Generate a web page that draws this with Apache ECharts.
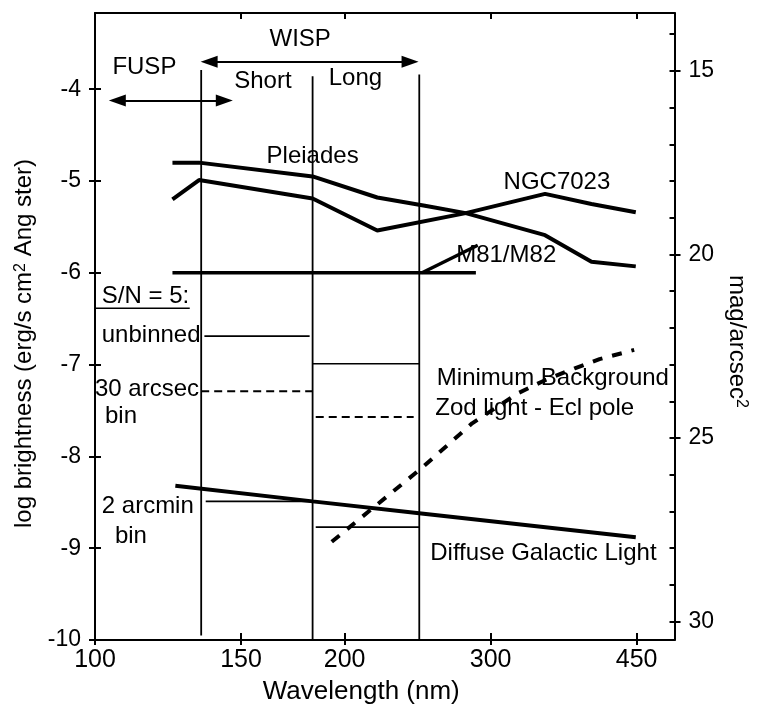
<!DOCTYPE html>
<html><head><meta charset="utf-8">
<script src="https://cdn.jsdelivr.net/npm/echarts@6/dist/echarts.min.js"></script>
<style>html,body{margin:0;padding:0;background:#fff}#c{width:757px;height:711px}</style>
</head><body><div id="c"></div>
<script>
// ---------- data ----------
const wavelengthTicks = [100, 150, 200, 300, 450];
const brightnessTicks = [-10, -9, -8, -7, -6, -5, -4];
const magLabels = [15, 20, 25, 30];
const magMinorTicks = [14, 15, 16, 17, 18, 19, 20, 21, 22, 23, 24, 25, 26, 27, 28, 29, 30];
const brightnessMin = -10;
const brightnessMax = -3.17;
const magZeroPoint = 2.2;      // log brightness = 2.2 - 0.4 * mag

const pleiadesWave = [124, 133.5, 183, 219, 250, 280, 349, 397, 449];
const pleiadesLogB = [-4.80, -4.80, -4.95, -5.18, -5.27, -5.35, -5.59, -5.88, -5.93];

const ngcWave = [124, 133.5, 183, 219, 280, 349, 397, 449];
const ngcLogB = [-5.20, -4.99, -5.19, -5.54, -5.35, -5.14, -5.25, -5.34];

const m81FlatWave = [124, 288];
const m81FlatLogB = [-6.0, -6.0];
const m81RiseWave = [248, 289.5];
const m81RiseLogB = [-6.0, -5.70];

const dglWave = [125, 183, 246, 449];
const dglLogB = [-8.32, -8.49, -8.62, -8.88];

const minBgWave = [193, 249, 285, 324, 349, 379, 406, 447];
const minBgLogB = [-8.93, -8.11, -7.64, -7.31, -7.17, -7.04, -6.94, -6.84];

const channelEdgeWave = [134.3, 183, 246.1];
const channelEdgeTop = [-3.79, -3.86, -3.84];
const channelEdgeBottom = [-9.95, -10, -10];

const unbinnedShortWave = [135.5, 181.5]; const unbinnedShortLogB = [-6.69, -6.69];
const unbinnedLongWave = [183, 246];      const unbinnedLongLogB = [-6.99, -6.99];
const arcsecShortWave = [134.3, 183];     const arcsecShortLogB = [-7.29, -7.29];
const arcsecLongWave = [184.6, 242.3];    const arcsecLongLogB = [-7.57, -7.57];
const arcminShortWave = [136, 183];       const arcminShortLogB = [-8.49, -8.49];
const arcminLongWave = [184.6, 246];      const arcminLongLogB = [-8.77, -8.77];
const snUnderlineWave = [100.2, 130.1];   const snUnderlineLogB = [-6.386, -6.386];

const fuspArrowWave = [106.4, 143.2]; const fuspArrowLogB = -4.124;
const wispArrowWave = [137.3, 239.9]; const wispArrowLogB = -3.70;

const annotationTexts = ['FUSP', 'WISP', 'Short', 'Long', 'Pleiades', 'NGC7023', 'M81/M82',
  'S/N = 5:', 'unbinned', '30 arcsec', 'bin', '2 arcmin', 'bin',
  'Minimum Background', 'Zod light - Ecl pole', 'Diffuse Galactic Light'];
const annotationWave = [114.7, 176.8, 159.4, 206.1, 183.0, 360.7, 313.3,
  101.9, 101.9, 100.0, 107.5, 101.9, 110.5, 258.4, 257.3, 253.7];
const annotationLogB = [-3.763, -3.458, -3.91, -3.88, -4.737, -5.01, -5.81,
  -6.257, -6.682, -7.265, -7.559, -8.545, -8.866, -7.145, -7.472, -9.051];
const annotationAlign = ['center', 'center', 'center', 'center', 'center', 'center', 'center',
  'left', 'left', 'left', 'center', 'left', 'center', 'left', 'left', 'left'];

// ---------- chart ----------
const INK = '#000';
const FONT = '"Liberation Sans", Arial, Helvetica, sans-serif';
const zip = (xs, ys) => xs.map((x, i) => [x, Array.isArray(ys) ? ys[i] : ys]);
const magTop = (magZeroPoint - brightnessMax) / 0.4;
const magBottom = (magZeroPoint - brightnessMin) / 0.4;

function lineSeries(name, xs, ys, width, dash) {
  return {
    name, type: 'line', xAxisIndex: 0, yAxisIndex: 0,
    data: zip(xs, ys), symbol: 'none', showSymbol: false, silent: true,
    lineStyle: { color: INK, width: width, type: dash || 'solid', cap: 'butt', opacity: 1 },
    z: 3, animation: false
  };
}

const series = [
  lineSeries('Pleiades', pleiadesWave, pleiadesLogB, 4),
  lineSeries('NGC7023', ngcWave, ngcLogB, 4),
  lineSeries('M81/M82 flat', m81FlatWave, m81FlatLogB, 3.5),
  lineSeries('M81/M82', m81RiseWave, m81RiseLogB, 3.5),
  lineSeries('Diffuse Galactic Light', dglWave, dglLogB, 4),
  lineSeries('Minimum Background', minBgWave, minBgLogB, 4, [10, 10]),
  lineSeries('unbinned short', unbinnedShortWave, unbinnedShortLogB, 1.6),
  lineSeries('unbinned long', unbinnedLongWave, unbinnedLongLogB, 1.6),
  lineSeries('30 arcsec short', arcsecShortWave, arcsecShortLogB, 2, [8, 5]),
  lineSeries('30 arcsec long', arcsecLongWave, arcsecLongLogB, 2, [8, 5]),
  lineSeries('2 arcmin short', arcminShortWave, arcminShortLogB, 1.6),
  lineSeries('2 arcmin long', arcminLongWave, arcminLongLogB, 1.6),
  lineSeries('S/N underline', snUnderlineWave, snUnderlineLogB, 1.6)
];
channelEdgeWave.forEach((w, i) => {
  series.push(lineSeries('edge' + i, [w, w], [channelEdgeTop[i], channelEdgeBottom[i]], 1.8));
});
series.push({
  type: 'line', xAxisIndex: 0, yAxisIndex: 0, data: [], silent: true, animation: false,
  markLine: {
    silent: true, animation: false,
    symbol: ['triangle', 'triangle'], symbolSize: [12, 17],
    label: { show: false },
    lineStyle: { color: INK, width: 2, type: 'solid', opacity: 1 },
    itemStyle: { color: INK, opacity: 1 },
    data: [
      [{ coord: [fuspArrowWave[0], fuspArrowLogB] }, { coord: [fuspArrowWave[1], fuspArrowLogB] }],
      [{ coord: [wispArrowWave[0], wispArrowLogB] }, { coord: [wispArrowWave[1], wispArrowLogB] }]
    ]
  }
});
series.push({
  name: 'annotations', type: 'scatter', xAxisIndex: 0, yAxisIndex: 0, silent: true, animation: false,
  symbolSize: 1, itemStyle: { color: 'rgba(0,0,0,0)', opacity: 1 }, z: 5,
  data: annotationTexts.map((t, i) => ({
    value: [annotationWave[i], annotationLogB[i]],
    label: {
      show: true, position: 'inside', formatter: t, align: annotationAlign[i], verticalAlign: 'middle',
      color: INK, opacity: 1, fontSize: 24, fontFamily: FONT, textBorderWidth: 0
    }
  }))
});

const logAxisBase = { type: 'log', logBase: 10, min: 100, max: 500, splitLine: { show: false }, minorTick: { show: false } };
const yBase = { type: 'value', min: brightnessMin, max: brightnessMax, splitLine: { show: false } };
const magBase = { type: 'value', min: magTop, max: magBottom, inverse: true, splitLine: { show: false } };
const axisLine = { show: true, lineStyle: { color: INK, width: 2 } };

const option = {
  animation: false,
  backgroundColor: '#fff',
  grid: { left: 95, right: 80, top: 13, bottom: 71, containLabel: false },
  xAxis: [
    Object.assign({}, logAxisBase, {
      position: 'bottom', axisLine,
      axisTick: { show: true, customValues: wavelengthTicks, length: 5, lineStyle: { color: INK, width: 2 } },
      axisLabel: { customValues: wavelengthTicks, margin: 8, fontSize: 25, color: INK, fontFamily: FONT, formatter: v => String(Math.round(v)) },
      name: 'Wavelength (nm)', nameLocation: 'middle', nameGap: 39,
      nameTextStyle: { fontSize: 26, color: INK, fontFamily: FONT, padding: [0, 47, 0, 0] }
    }),
    Object.assign({}, logAxisBase, {
      position: 'bottom', axisLine: { show: false },
      axisTick: { show: true, inside: true, customValues: wavelengthTicks, length: 7, lineStyle: { color: INK, width: 2 } },
      axisLabel: { show: false }
    }),
    Object.assign({}, logAxisBase, {
      position: 'top', axisLine,
      axisTick: { show: true, inside: true, customValues: wavelengthTicks, length: 6, lineStyle: { color: INK, width: 2 } },
      axisLabel: { show: false }
    })
  ],
  yAxis: [
    Object.assign({}, yBase, {
      position: 'left', axisLine,
      axisTick: { show: true, customValues: brightnessTicks, length: 6, lineStyle: { color: INK, width: 2 } },
      axisLabel: { customValues: brightnessTicks, margin: 14, fontSize: 23, color: INK, fontFamily: FONT },
      name: 'log brightness (erg/s cm{sup|2} Ang ster)', nameLocation: 'middle', nameGap: 51,
      nameTextStyle: { fontSize: 24, color: INK, fontFamily: FONT, padding: [0, 34, 0, 0],
        rich: { sup: { fontSize: 16, color: INK, fontFamily: FONT, verticalAlign: 'top' } } }
    }),
    Object.assign({}, yBase, {
      position: 'left', axisLine: { show: false },
      axisTick: { show: true, inside: true, customValues: brightnessTicks, length: 6, lineStyle: { color: INK, width: 2 } },
      axisLabel: { show: false }
    }),
    Object.assign({}, magBase, {
      position: 'right', axisLine,
      axisTick: { show: true, customValues: magLabels, length: 6, lineStyle: { color: INK, width: 2 } },
      axisLabel: { customValues: magLabels, margin: 14, fontSize: 23, color: INK, fontFamily: FONT },
      name: 'mag/arcsec{sup|2}', nameLocation: 'middle', nameRotate: -90, nameGap: 46,
      nameTextStyle: { fontSize: 24, color: INK, fontFamily: FONT, padding: [0, 0, 0, 30],
        rich: { sup: { fontSize: 16, color: INK, fontFamily: FONT, verticalAlign: 'top' } } }
    }),
    Object.assign({}, magBase, {
      position: 'right', axisLine: { show: false },
      axisTick: { show: true, inside: true, customValues: magMinorTicks, length: 5, lineStyle: { color: INK, width: 2 } },
      axisLabel: { show: false }
    })
  ],
  series
};

const chart = echarts.init(document.getElementById('c'), null, { renderer: 'canvas' });
chart.setOption(option);
</script></body></html>
